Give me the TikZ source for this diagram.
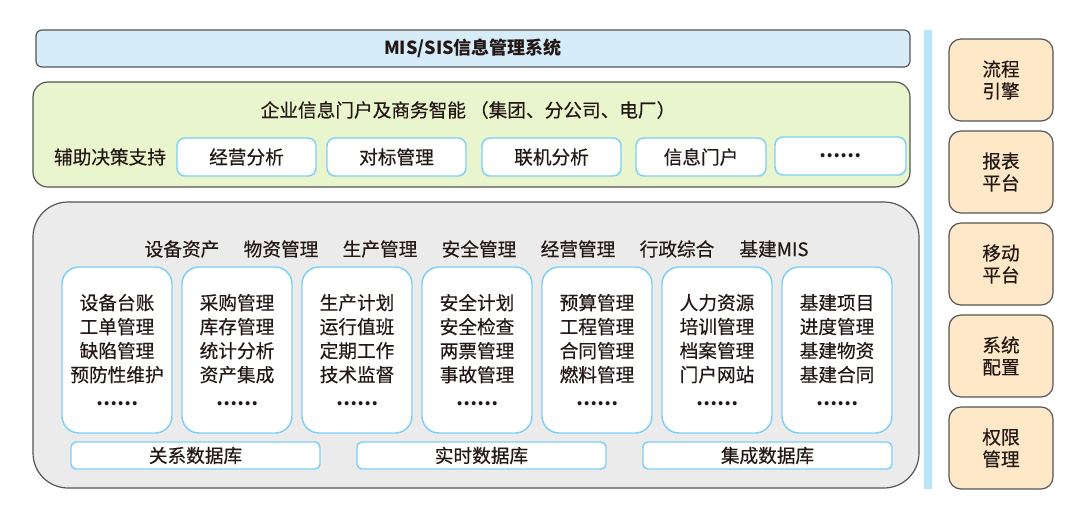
\documentclass[tikz,border=0pt]{standalone}
\usepackage{fontspec}
\setmainfont{Noto Sans CJK SC}[UprightFeatures={FakeBold=0.35}]
\usepackage{tikz}
\newcommand{\moredots}{{\bfseries ……}}

\begin{document}
\begin{tikzpicture}[x=0.75pt,y=0.75pt,yscale=-1,xscale=1,
  every node/.style={font=\fontsize{14}{18}\selectfont, text={rgb, 255:red, 35; green, 24; blue, 21 }, inner sep=0pt, align=center},
  topbar/.style={draw={rgb, 255:red, 85; green, 85; blue, 85 }, line width=0.9, fill={rgb, 255:red, 214; green, 236; blue, 248 }, rounded corners=4.5pt, minimum width=655.5pt, minimum height=27.75pt},
  portal/.style={draw={rgb, 255:red, 85; green, 85; blue, 85 }, line width=0.9, fill={rgb, 255:red, 233; green, 245; blue, 205 }, rounded corners=11.25pt, minimum width=657.75pt, minimum height=78.75pt},
  subbox/.style={draw={rgb, 255:red, 125; green, 208; blue, 247 }, line width=1.1, fill=white, rounded corners=6pt, minimum height=28.5pt},
  appzone/.style={draw={rgb, 255:red, 85; green, 85; blue, 85 }, line width=0.9, fill={rgb, 255:red, 235; green, 235; blue, 235 }, rounded corners=26.25pt, minimum width=664.5pt, minimum height=214.5pt},
  modbox/.style={draw={rgb, 255:red, 125; green, 208; blue, 247 }, line width=1.1, fill=white, rounded corners=12.75pt, minimum width=82.5pt, minimum height=124.5pt},
  dbbox/.style={draw={rgb, 255:red, 125; green, 208; blue, 247 }, line width=1.1, fill=white, rounded corners=3.75pt, minimum width=186.75pt, minimum height=20.25pt},
  toolbox/.style={draw={rgb, 255:red, 85; green, 85; blue, 85 }, line width=0.9, fill={rgb, 255:red, 254; green, 232; blue, 200 }, rounded corners=9pt, minimum width=78pt, minimum height=61.5pt, font=\fontsize{14}{16.5}\selectfont}
]
%set diagram size
\useasboundingbox (0,0) rectangle (1080,519);

%Rounded Rect [id:dp01] 
\node (mis) at (473,48.5) [topbar] {\bfseries\fontsize{13.5}{16}\selectfont MIS/SIS信息管理系统};

%Rounded Rect [id:dp02] 
\node (portal) at (471.5,134.5) [portal] {};
% Text Node
\node (portaltitle) at (468,110) {企业信息门户及商务智能\hspace{3pt}（集团、分公司、电厂）};
% Text Node
\node (decision) at (110,157) {辅助决策支持};

%Rounded Rect [id:dp03] 
\node (jyfx) at (246.5,157) [subbox, minimum width=104.25pt] {经营分析};
%Rounded Rect [id:dp04] 
\node (dbgl) at (396.5,157) [subbox, minimum width=104.25pt] {对标管理};
%Rounded Rect [id:dp05] 
\node (ljfx) at (551.5,157) [subbox, minimum width=104.25pt] {联机分析};
%Rounded Rect [id:dp06] 
\node (xxmh) at (701,157) [subbox, minimum width=97.5pt] {信息门户};
%Rounded Rect [id:dp07] 
\node (more) at (840.5,156) [subbox, minimum width=98.25pt] {\moredots};

%Rounded Rect [id:dp08] 
\node (apps) at (476,345) [appzone] {};

% Text Node
\node (hdrsb) at (182,249) {设备资产};
% Text Node
\node (hdrwz) at (281,249) {物资管理};
% Text Node
\node (hdrsc) at (380,249) {生产管理};
% Text Node
\node (hdraq) at (479,249) {安全管理};
% Text Node
\node (hdrjy) at (578,249) {经营管理};
% Text Node
\node (hdrxz) at (677,249) {行政综合};
% Text Node
\node (hdrjj) at (774,249) {基建MIS};

%Rounded Rect [id:dp09] 
\node (modsb) at (117,350) [modbox] {设备台账\\工单管理\\缺陷管理\\预防性维护\\\moredots};
%Rounded Rect [id:dp10] 
\node (modwz) at (237,350) [modbox] {采购管理\\库存管理\\统计分析\\资产集成\\\moredots};
%Rounded Rect [id:dp11] 
\node (modsc) at (357,350) [modbox] {生产计划\\运行值班\\定期工作\\技术监督\\\moredots};
%Rounded Rect [id:dp12] 
\node (modaq) at (477,350) [modbox] {安全计划\\安全检查\\两票管理\\事故管理\\\moredots};
%Rounded Rect [id:dp13] 
\node (modjy) at (597,350) [modbox] {预算管理\\工程管理\\合同管理\\燃料管理\\\moredots};
%Rounded Rect [id:dp14] 
\node (modxz) at (717,350) [modbox] {人力资源\\培训管理\\档案管理\\门户网站\\\moredots};
%Rounded Rect [id:dp15] 
\node (modjj) at (837,350) [modbox] {基建项目\\进度管理\\基建物资\\基建合同\\\moredots};

%Rounded Rect [id:dp16] 
\node (dbrel) at (195.5,455.5) [dbbox] {关系数据库};
%Rounded Rect [id:dp17] 
\node (dbrt) at (481.5,455.5) [dbbox] {实时数据库};
%Rounded Rect [id:dp18] 
\node (dbint) at (767.5,455.5) [dbbox] {集成数据库};

%Shape: Rectangle [id:dp19] 
\fill [color={rgb, 255:red, 185; green, 229; blue, 251 }] (924,30) rectangle (932,489);

%Rounded Rect [id:dp20] 
\node (lcyq) at (1001,80) [toolbox] {流程\\引擎};
%Rounded Rect [id:dp21] 
\node (bbpt) at (1001,172) [toolbox] {报表\\平台};
%Rounded Rect [id:dp22] 
\node (ydpt) at (1001,264) [toolbox] {移动\\平台};
%Rounded Rect [id:dp23] 
\node (xtpz) at (1001,356) [toolbox] {系统\\配置};
%Rounded Rect [id:dp24] 
\node (qxgl) at (1001,448) [toolbox] {权限\\管理};

\end{tikzpicture}
\end{document}
